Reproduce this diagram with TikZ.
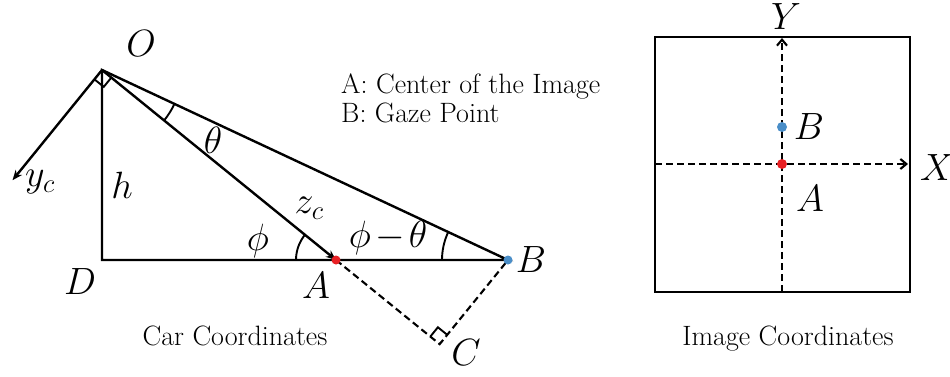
\RequirePackage{fix-cm}
\documentclass[tikz,border=0pt]{standalone}
\usepackage{fontspec}
\usetikzlibrary{calc,arrows.meta,angles}
\definecolor{dotred}{RGB}{232,32,36}
\definecolor{dotblue}{RGB}{74,142,200}
\begin{document}
\begin{tikzpicture}[x=1pt,y=1pt,
  ln/.style={line width=2.4pt, line cap=round},
  dsh/.style={line width=2.1pt, dash pattern=on 7pt off 4pt},
  arr/.style={-{Stealth[length=10pt,width=8pt,inset=3pt]}},
  ml/.style={font=\fontsize{38}{42}\selectfont, inner sep=0pt},
  tl/.style={font=\rmfamily\fontsize{28}{30}\selectfont, inner sep=0pt, anchor=base},
  ang/.style={draw, line width=1.9pt}]
\useasboundingbox (0,0) rectangle (950,376);
% points
\coordinate (O) at (102,306);
\coordinate (D) at (102,116);
\coordinate (A) at (336,116);
\coordinate (B) at (508,116);
\coordinate (C) at ($(O)!(B)!(A)$);
\coordinate (Yc) at ($(O)!142pt!-90:(A)$);
% main lines
\draw[ln] (O) -- (D) -- (B) -- cycle;
\draw[ln,arr] (O) -- (A);
\draw[ln,arr] (O) -- (Yc);
\draw[dsh] (A) -- (C) -- (B);
% right angle marks
\draw[line width=1.9pt] ($(O)!12pt!(A)$) -- ($(O)!12pt!(A)!12pt!90:(O)$) -- ($(O)!12pt!(Yc)$);
\draw[line width=1.9pt] ($(C)!12pt!(A)$) -- ($(C)!12pt!(A)!12pt!90:(C)$) -- ($(C)!12pt!(B)$);
% angle arcs
\pic[ang, angle radius=80pt] {angle = A--O--B};
\pic[ang, angle radius=40pt] {angle = O--A--D};
\pic[ang, angle radius=66pt] {angle = O--B--A};
% dots
\fill[dotred] (A) circle (4.5pt);
\fill[dotblue] (B) circle (4.5pt);
% labels
\node[ml] (lO) at (141,332) {$O$};
\node[ml] (lh) at (122,191) {$h$};
\node[ml] (lyc) at (40,194) {$y_c$};
\node[ml] (lth) at (213,236) {$\theta$};
\node[ml] (lzc) at (309,168) {$z_c$};
\node[ml] (lphi) at (258,135) {$\phi$};
\node[ml] (lpt) at (388,138) {$\phi\mskip2mu{-}\mskip2mu\theta$};
\node[ml] (lD) at (80,94) {$D$};
\node[ml] (lA) at (316,90) {$A$};
\node[ml] (lB) at (531,116) {$B$};
\node[ml] (lC) at (466,23) {$C$};
\node[tl, anchor=base west] (t1) at (341,283) {A: Center of the Image};
\node[tl, anchor=base west] (t2) at (341,254) {B: Gaze Point};
\node[tl] (cap1) at (235,31) {Car Coordinates};
% image coordinates
\draw[line width=2.4pt] (655,84) rectangle (910,339);
\coordinate (Ic) at (782,212);
\coordinate (Ib) at (782,249);
\coordinate (Ybot) at (782,84);
\coordinate (Ytop) at (782,338);
\coordinate (Xl) at (655,212);
\coordinate (Xr) at (908,212);
\draw[dsh,-{Straight Barb[length=6pt,width=10pt]}] (Ybot) -- (Ytop);
\draw[dsh,-{Straight Barb[length=6pt,width=10pt]}] (Xl) -- (Xr);
\fill[dotred] (Ic) circle (5pt);
\fill[dotblue] (Ib) circle (5pt);
\node[ml] (lY) at (786,359) {$Y$};
\node[ml] (lX) at (937,208) {$X$};
\node[ml] (lBi) at (809,249) {$B$};
\node[ml] (lAi) at (810,177) {$A$};
\node[tl] (cap2) at (788,31) {Image Coordinates};
\end{tikzpicture}
\end{document}
